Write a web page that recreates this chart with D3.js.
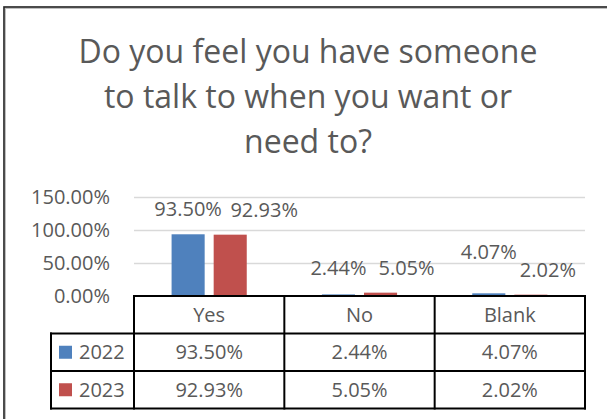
<!DOCTYPE html>
<html>
<head>
<meta charset="utf-8">
<script src="https://cdn.jsdelivr.net/npm/d3@7"></script>
<style>
  html, body { margin: 0; padding: 0; background: #fff; }
  svg { display: block; font-family: "Open Sans", "Liberation Sans", sans-serif; }
</style>
</head>
<body>
<svg id="chart" width="607" height="419"></svg>
<script>
// ---- data ----
const titleLines = ["Do you feel you have someone", "to talk to when you want or", "need to?"];
const categories = ["Yes", "No", "Blank"];
const seriesNames = ["2022", "2023"];
const values2022 = [93.50, 2.44, 4.07];
const values2023 = [92.93, 5.05, 2.02];
const yTicks = [0, 50, 100, 150];

// ---- styling / layout ----
const colors = { "2022": "#4F81BD", "2023": "#C0504D" };
const textColor = "#595959";
const W = 607, H = 419;
const plot = { left: 134, right: 585, top: 197, bottom: 296 };
const rowH = 37.5;
const legendLeft = 51;
// manual label nudges (dx, dy from bar top), as placed in the original
const labelNudge = { "2022": [[0, -18], [0, -19], [0, -34]], "2023": [[34, -18], [26, -18], [17, -18]] };

const svg = d3.select("#chart");
svg.append("rect").attr("width", W).attr("height", H).attr("fill", "#fff");

// outer chart border (left & top visible)
svg.append("path")
  .attr("d", `M4.5,${H} L4.5,7.5 L${W},7.5`)
  .attr("fill", "none").attr("stroke", "#bfbfbf").attr("stroke-width", 3);
svg.append("path")
  .attr("d", `M4,${H} L4,7 L${W},7`)
  .attr("fill", "none").attr("stroke", "#262626").attr("stroke-width", 1.5);

// title
svg.append("g").selectAll("text").data(titleLines).join("text")
  .attr("x", 308).attr("y", (d, i) => 63 + i * 45)
  .attr("text-anchor", "middle")
  .attr("font-size", 32).attr("fill", textColor)
  .text(d => d);

// scales
const x0 = d3.scaleBand().domain(categories).range([plot.left, plot.right]).paddingInner(0).paddingOuter(0);
const x1 = d3.scaleBand().domain(seriesNames).range([0, x0.bandwidth()]).paddingInner(0.214).paddingOuter(0.893);
const y = d3.scaleLinear().domain([0, 150]).range([plot.bottom, plot.top]);
const fmt = v => d3.format(".2%")(v / 100);

// y axis with gridlines
const yAxis = svg.append("g").attr("transform", `translate(${plot.left},0)`)
  .call(d3.axisLeft(y).tickValues(yTicks).tickFormat(fmt).tickSize(-(plot.right - plot.left)).tickPadding(24));
yAxis.select(".domain").remove();
yAxis.selectAll(".tick line").attr("stroke", "#d9d9d9").attr("stroke-width", 1.3)
  .attr("opacity", d => d === 0 ? 0 : 1);
yAxis.selectAll(".tick text").attr("fill", textColor).attr("font-size", 20)
  .attr("font-family", "Open Sans, sans-serif");

// bars
const seriesData = seriesNames.map((s, si) => ({
  name: s,
  values: (si === 0 ? values2022 : values2023).map((v, ci) => ({ cat: categories[ci], v, ci }))
}));
const groups = svg.append("g").selectAll("g").data(seriesData).join("g")
  .attr("fill", d => colors[d.name]);
groups.selectAll("rect").data(d => d.values.map(e => ({ ...e, s: d.name }))).join("rect")
  .attr("x", d => x0(d.cat) + x1(d.s))
  .attr("y", d => y(d.v))
  .attr("width", x1.bandwidth())
  .attr("height", d => y(0) - y(d.v));

// data labels
groups.selectAll("text").data(d => d.values.map(e => ({ ...e, s: d.name }))).join("text")
  .attr("x", d => x0(d.cat) + x1(d.s) + x1.bandwidth() / 2 + labelNudge[d.s][d.ci][0])
  .attr("y", d => y(d.v) + labelNudge[d.s][d.ci][1])
  .attr("text-anchor", "middle").attr("font-size", 20).attr("fill", textColor)
  .text(d => fmt(d.v));

// data table
const table = svg.append("g");
const tTop = plot.bottom;
const rowY = i => tTop + rowH * (i + 1); // top of data row i
// header text
table.selectAll("text.hdr").data(categories).join("text").attr("class", "hdr")
  .attr("x", d => x0(d) + x0.bandwidth() / 2).attr("y", tTop + rowH / 2 + 7)
  .attr("text-anchor", "middle").attr("font-size", 20).attr("fill", textColor).text(d => d);
// data cells
seriesData.forEach((s, si) => {
  table.selectAll(`text.c${si}`).data(s.values).join("text").attr("class", `c${si}`)
    .attr("x", d => x0(d.cat) + x0.bandwidth() / 2).attr("y", rowY(si) + rowH / 2 + 7)
    .attr("text-anchor", "middle").attr("font-size", 20).attr("fill", textColor).text(d => fmt(d.v));
  table.append("rect").attr("x", 59).attr("y", rowY(si) + rowH / 2 - 6.5)
    .attr("width", 13).attr("height", 13).attr("fill", colors[s.name]);
  table.append("text").attr("x", 79).attr("y", rowY(si) + rowH / 2 + 7)
    .attr("font-size", 20).attr("fill", textColor).text(s.name);
});
// grid lines of the table
const lines = [];
const tBottom = rowY(seriesNames.length);
lines.push([plot.left, tTop, plot.right, tTop]);
seriesNames.forEach((s, i) => lines.push([legendLeft, rowY(i), plot.right, rowY(i)]));
lines.push([legendLeft, tBottom, plot.right, tBottom]);
lines.push([legendLeft, rowY(0), legendLeft, tBottom]);
categories.forEach(c => lines.push([x0(c), tTop, x0(c), tBottom]));
lines.push([plot.right, tTop, plot.right, tBottom]);
table.selectAll("line").data(lines).join("line")
  .attr("x1", d => d[0]).attr("y1", d => d[1]).attr("x2", d => d[2]).attr("y2", d => d[3])
  .attr("stroke", "#000").attr("stroke-width", 2).attr("stroke-linecap", "square");
</script>
</body>
</html>
